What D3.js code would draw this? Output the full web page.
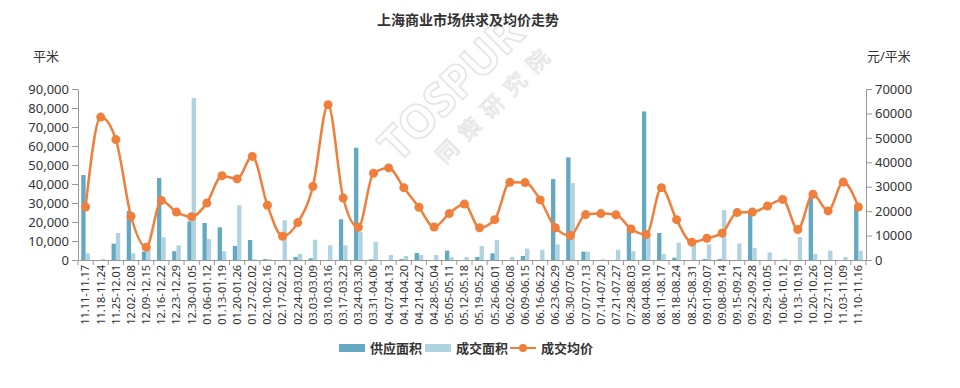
<!DOCTYPE html>
<html>
<head>
<meta charset="utf-8">
<script src="https://cdn.jsdelivr.net/npm/d3@7"></script>
<style>
  body { margin: 0; background: #fff; }
  svg { font-family: "Noto Sans", "Noto Sans CJK SC", sans-serif; }
</style>
</head>
<body>
<div id="chart"></div>
<script>
const weeks = [
  '11.11-11.17', '11.18-11.24', '11.25-12.01', '12.02-12.08', '12.09-12.15', '12.16-12.22',
  '12.23-12.29', '12.30-01.05', '01.06-01.12', '01.13-01.19', '01.20-01.26', '01.27-02.02',
  '02.10-02.16', '02.17-02.23', '02.24-03.02', '03.03-03.09', '03.10-03.16', '03.17-03.23',
  '03.24-03.30', '03.31-04.06', '04.07-04.13', '04.14-04.20', '04.21-04.27', '04.28-05.04',
  '05.05-05.11', '05.12-05.18', '05.19-05.25', '05.26-06.01', '06.02-06.08', '06.09-06.15',
  '06.16-06.22', '06.23-06.29', '06.30-07.06', '07.07-07.13', '07.14-07.20', '07.21-07.27',
  '07.28-08.03', '08.04-08.10', '08.11-08.17', '08.18-08.24', '08.25-08.31', '09.01-09.07',
  '09.08-09.14', '09.15-09.21', '09.22-09.28', '09.29-10.05', '10.06-10.12', '10.13-10.19',
  '10.20-10.26', '10.27-11.02', '11.03-11.09', '11.10-11.16'
]

// 供应面积 (平米)
const supply = [
  44700, 0, 8600, 25800, 4400, 43200, 4600, 20300, 19500, 17200, 7400, 10500,
  500, 0, 1600, 900, 0, 21400, 59100, 400, 0, 500, 3700, 0,
  4900, 0, 1600, 3500, 0, 2100, 0, 42600, 54000, 4400, 0, 0,
  16000, 78200, 14200, 1200, 0, 500, 500, 0, 25100, 0, 0, 0,
  33300, 0, 0, 28600
]

// 成交面积 (平米)
const deal = [
  3500, 500, 14200, 3500, 7500, 12000, 7700, 85200, 11000, 4600, 28800, 400,
  400, 20900, 3200, 10700, 7700, 7700, 14900, 9600, 2600, 2100, 2600, 2600,
  1600, 1600, 7400, 10500, 1600, 6000, 5400, 8200, 40500, 4400, 400, 5400,
  4600, 12000, 3200, 9100, 10800, 8200, 26300, 8700, 6300, 4000, 500, 12000,
  3200, 4900, 1600, 4900
]

// 成交均价 (元/平米)
const price = [
  21700, 58500, 49300, 17900, 5200, 24400, 19600, 17700, 23300, 34500, 33200, 42400,
  22400, 9700, 15300, 30100, 63600, 25400, 13400, 35500, 37700, 29600, 21600, 13500,
  19000, 22900, 13200, 16500, 31800, 31700, 24600, 13200, 10000, 18600, 19000, 18500,
  12700, 10400, 29600, 16500, 7300, 8900, 11000, 19400, 19600, 22100, 24800, 12500,
  26900, 20100, 31900, 21700
]

const leftTicks = [0, 10000, 20000, 30000, 40000, 50000, 60000, 70000, 80000, 90000]
const rightTicks = [0, 10000, 20000, 30000, 40000, 50000, 60000, 70000]

const seriesNames = ['供应面积', '成交面积', '成交均价']
const colors = { supply: '#65a8c2', deal: '#afd3df', price: '#ef7f3b' }

const margin = { top: 89, left: 78, right: 94, bottom: 128 }
const width = 960 - margin.left - margin.right
const height = 388 - margin.top - margin.bottom

const root = d3
  .select('#chart')
  .append('svg')
  .attr('width', 960)
  .attr('height', 388)

const svg = root
  .append('g')
  .attr('transform', 'translate(' + margin.left + ',' + margin.top + ')')

const xScale = d3.scaleBand().domain(weeks).range([0, width]).paddingInner(0.43).paddingOuter(0.215)
const subScale = d3.scaleBand().domain(['supply', 'deal']).range([0, xScale.bandwidth()])
const yLeft = d3.scaleLinear().domain([0, 90000]).range([height, 0])
const yRight = d3.scaleLinear().domain([0, 70000]).range([height, 0])

// watermark
const wm = root.append('g').attr('transform', 'translate(462,100) rotate(-45)')
wm.append('text')
  .attr('text-anchor', 'middle')
  .style('font-size', '46px')
  .style('font-weight', 700)
  .style('fill', 'none')
  .style('stroke', '#e4e4e4')
  .style('stroke-width', 1.5)
  .text('TOSPUR')
wm.append('text')
  .attr('text-anchor', 'middle')
  .attr('y', 34)
  .attr('x', 22)
  .style('font-size', '22px')
  .style('fill', 'none')
  .style('stroke', '#e4e4e4')
  .style('letter-spacing', '10px')
  .text('同策研究院')

// bars
const groups = svg
  .selectAll('.week')
  .data(weeks)
  .enter()
  .append('g')
  .attr('class', 'week')
  .attr('transform', d => 'translate(' + xScale(d) + ',0)')

groups
  .append('rect')
  .attr('x', subScale('supply'))
  .attr('width', subScale.bandwidth())
  .attr('y', (d, i) => yLeft(supply[i]))
  .attr('height', (d, i) => height - yLeft(supply[i]))
  .style('fill', colors.supply)

groups
  .append('rect')
  .attr('x', subScale('deal'))
  .attr('width', subScale.bandwidth())
  .attr('y', (d, i) => yLeft(deal[i]))
  .attr('height', (d, i) => height - yLeft(deal[i]))
  .style('fill', colors.deal)

// price line
const cx = (d, i) => xScale(weeks[i]) + xScale.bandwidth() / 2
const line = d3
  .line()
  .x(cx)
  .y(d => yRight(d))
  .curve(d3.curveMonotoneX)

svg
  .append('path')
  .datum(price)
  .attr('d', line)
  .style('fill', 'none')
  .style('stroke', colors.price)
  .style('stroke-width', 2.5)

svg
  .selectAll('.dot')
  .data(price)
  .enter()
  .append('circle')
  .attr('class', 'dot')
  .attr('cx', cx)
  .attr('cy', d => yRight(d))
  .attr('r', 4.5)
  .style('fill', colors.price)

// axes
const xAxis = d3.axisBottom(xScale).tickSize(0).tickPadding(4)
const xg = svg
  .append('g')
  .attr('class', 'x axis')
  .attr('transform', 'translate(0,' + height + ')')
  .call(xAxis)
xg.selectAll('text')
  .attr('transform', 'rotate(-90)')
  .attr('x', -5)
  .attr('y', 0)
  .attr('dy', '0.35em')
  .style('text-anchor', 'end')
  .style('font-size', '11px')
  .style('fill', '#333')

// category boundary ticks
xg.selectAll('.bound')
  .data(weeks.concat(['end']))
  .enter()
  .append('line')
  .attr('class', 'bound')
  .attr('x1', (d, i) => i * xScale.step())
  .attr('x2', (d, i) => i * xScale.step())
  .attr('y1', 0)
  .attr('y2', 5)
  .style('stroke', '#999')

const leftAxis = d3.axisLeft(yLeft).tickValues(leftTicks).tickFormat(d3.format(',')).tickSizeOuter(0)
const lg = svg.append('g').attr('class', 'y axis').call(leftAxis)
lg.selectAll('text').style('font-size', '13px').style('fill', '#333')

const rightAxis = d3.axisRight(yRight).tickValues(rightTicks).tickFormat(d3.format('d')).tickSizeOuter(0)
const rg = svg
  .append('g')
  .attr('class', 'y axis')
  .attr('transform', 'translate(' + width + ',0)')
  .call(rightAxis)
rg.selectAll('text').style('font-size', '13px').style('fill', '#333')

svg.selectAll('.axis path, .axis line').style('stroke', '#999')
svg.selectAll('.axis text').style('font-family', '"Noto Sans", "Noto Sans CJK SC", sans-serif')

// titles
root
  .append('text')
  .attr('x', 468)
  .attr('y', 25)
  .style('text-anchor', 'middle')
  .style('font-size', '14px')
  .style('font-weight', 700)
  .style('fill', '#333')
  .text('上海商业市场供求及均价走势')

root
  .append('text')
  .attr('x', 33)
  .attr('y', 61)
  .style('font-size', '13px')
  .style('fill', '#333')
  .text('平米')

root
  .append('text')
  .attr('x', 867)
  .attr('y', 61)
  .style('font-size', '13px')
  .style('fill', '#333')
  .text('元/平米')

// legend
const legend = root.append('g').attr('transform', 'translate(339,348)')
const legendItems = [
  { name: seriesNames[0], x: 0, type: 'rect', color: colors.supply },
  { name: seriesNames[1], x: 86, type: 'rect', color: colors.deal },
  { name: seriesNames[2], x: 171, type: 'line', color: colors.price }
]
legendItems.forEach(item => {
  const g = legend.append('g').attr('transform', 'translate(' + item.x + ',0)')
  if (item.type === 'rect') {
    g.append('rect').attr('x', 0).attr('y', -4).attr('width', 26).attr('height', 8).style('fill', item.color)
  } else {
    g.append('line').attr('x1', 0).attr('x2', 26).attr('y1', 0).attr('y2', 0)
      .style('stroke', item.color).style('stroke-width', 2)
    g.append('circle').attr('cx', 13).attr('cy', 0).attr('r', 4).style('fill', item.color)
  }
  g.append('text')
    .attr('x', 31)
    .attr('y', 0)
    .attr('dy', '0.35em')
    .style('font-size', '13px')
    .style('font-weight', 700)
    .style('fill', '#333')
    .text(item.name)
})
</script>
</body>
</html>
